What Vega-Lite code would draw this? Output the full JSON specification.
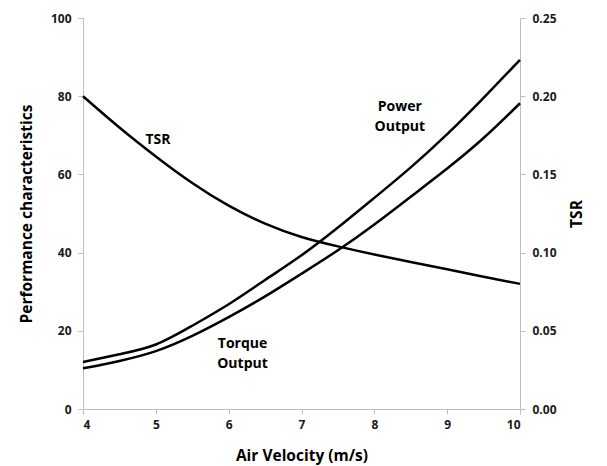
{
  "$schema": "https://vega.github.io/schema/vega-lite/v6.json",
  "width": 437,
  "height": 391,
  "autosize": {"type": "none"},
  "padding": {"left": 83, "top": 18, "right": 87, "bottom": 57},
  "background": "white",
  "config": {
    "view": {"stroke": null},
    "font": "Open Sans",
    "axis": {
      "grid": false,
      "domainColor": "#bfbfbf",
      "tickColor": "#bfbfbf",
      "tickSize": 5,
      "labelFont": "Open Sans",
      "labelFontWeight": "bold",
      "labelFontSize": 12,
      "labelColor": "#1a1a1a",
      "labelPadding": 7,
      "titleFont": "Open Sans",
      "titleFontWeight": "bold",
      "titleFontSize": 15.5,
      "titleColor": "#000000"
    }
  },
  "datasets": {
    "perf": [
      {"v": 4, "series": "Power", "val": 12.0},
      {"v": 4.5, "series": "Power", "val": 14.0},
      {"v": 5, "series": "Power", "val": 16.5},
      {"v": 5.5, "series": "Power", "val": 21.3},
      {"v": 6, "series": "Power", "val": 26.8},
      {"v": 6.5, "series": "Power", "val": 33.0},
      {"v": 7, "series": "Power", "val": 39.3},
      {"v": 7.5, "series": "Power", "val": 46.4},
      {"v": 8, "series": "Power", "val": 54.0},
      {"v": 8.5, "series": "Power", "val": 61.8},
      {"v": 9, "series": "Power", "val": 70.3},
      {"v": 9.5, "series": "Power", "val": 79.6},
      {"v": 10, "series": "Power", "val": 89.3},
      {"v": 4, "series": "Torque", "val": 10.4},
      {"v": 4.5, "series": "Torque", "val": 12.3},
      {"v": 5, "series": "Torque", "val": 14.8},
      {"v": 5.5, "series": "Torque", "val": 18.7},
      {"v": 6, "series": "Torque", "val": 23.5},
      {"v": 6.5, "series": "Torque", "val": 28.8},
      {"v": 7, "series": "Torque", "val": 34.6},
      {"v": 7.5, "series": "Torque", "val": 40.6},
      {"v": 8, "series": "Torque", "val": 47.2},
      {"v": 8.5, "series": "Torque", "val": 54.3},
      {"v": 9, "series": "Torque", "val": 61.5},
      {"v": 9.5, "series": "Torque", "val": 69.3},
      {"v": 10, "series": "Torque", "val": 78.2}
    ],
    "tsr": [
      {"v": 4, "tsr": 0.200},
      {"v": 4.5, "tsr": 0.180},
      {"v": 5, "tsr": 0.1615},
      {"v": 5.5, "tsr": 0.1445},
      {"v": 6, "tsr": 0.1300},
      {"v": 6.5, "tsr": 0.1185},
      {"v": 7, "tsr": 0.1100},
      {"v": 7.5, "tsr": 0.1040},
      {"v": 8, "tsr": 0.0988},
      {"v": 8.5, "tsr": 0.0940},
      {"v": 9, "tsr": 0.0893},
      {"v": 9.5, "tsr": 0.0846},
      {"v": 10, "tsr": 0.0800}
    ],
    "labels": [
      {"v": 5.03, "y": 68.8, "text": "TSR"},
      {"v": 8.35, "y": 77.2, "text": "Power"},
      {"v": 8.35, "y": 72.1, "text": "Output"},
      {"v": 6.19, "y": 16.6, "text": "Torque"},
      {"v": 6.19, "y": 11.5, "text": "Output"}
    ]
  },
  "layer": [
    {
      "layer": [
        {
          "data": {"name": "perf"},
          "mark": {"type": "line", "interpolate": "natural", "color": "black", "strokeWidth": 2.5},
          "encoding": {
            "x": {"field": "v", "type": "quantitative", "scale": {"domain": [4, 10], "nice": false}, "axis": {"title": "Air Velocity (m/s)", "values": [4,5,6,7,8,9,10], "format": "d", "titlePadding": 18, "labelPadding": 5}},
            "y": {"field": "val", "type": "quantitative", "scale": {"domain": [0, 100]}, "axis": {"title": "Performance characteristics", "values": [0,20,40,60,80,100], "titlePadding": 16}},
            "detail": {"field": "series"}
          }
        },
        {
          "data": {"name": "labels"},
          "mark": {"type": "text", "fontWeight": "bold", "fontSize": 14, "font": "Open Sans", "color": "black"},
          "encoding": {
            "x": {"field": "v", "type": "quantitative"},
            "y": {"field": "y", "type": "quantitative"},
            "text": {"field": "text"}
          }
        }
      ]
    },
    {
      "data": {"name": "tsr"},
      "mark": {"type": "line", "interpolate": "natural", "color": "black", "strokeWidth": 2.5},
      "encoding": {
        "x": {"field": "v", "type": "quantitative"},
        "y": {"field": "tsr", "type": "quantitative", "scale": {"domain": [0, 0.25]}, "axis": {"title": "TSR", "orient": "right", "format": ".2f", "values": [0,0.05,0.1,0.15,0.2,0.25], "titleAngle": 270, "titlePadding": 28}}
      }
    }
  ],
  "resolve": {"scale": {"y": "independent"}}
}
